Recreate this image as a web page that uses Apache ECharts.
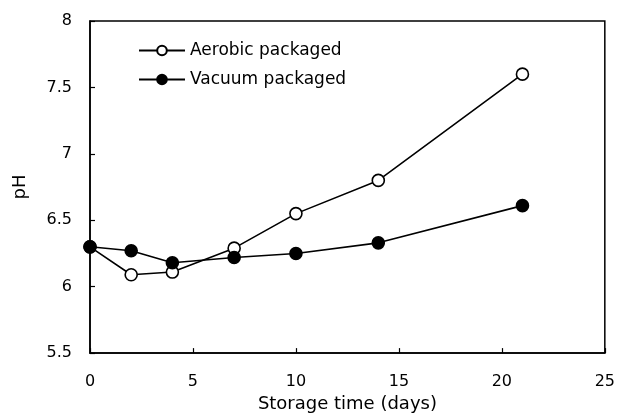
<!DOCTYPE html>
<html>
<head>
<meta charset="utf-8">
<script src="https://cdn.jsdelivr.net/npm/echarts@6/dist/echarts.min.js"></script>
<style>
html,body{margin:0;padding:0;background:#fff;}
#chart{width:618px;height:418px;}
</style>
</head>
<body>
<div id="chart"></div>
<script>
const days = [0, 2, 4, 7, 10, 14, 21];
const aerobic = [6.30, 6.09, 6.11, 6.29, 6.55, 6.80, 7.60];
const vacuum = [6.30, 6.27, 6.18, 6.22, 6.25, 6.33, 6.61];
const seriesNames = ['Aerobic packaged', 'Vacuum packaged'];
const xTitle = 'Storage time (days)';
const yTitle = 'pH';

const font = 'DejaVu Sans';
const pair = (ys) => days.map((d, i) => [d, ys[i]]);

const chart = echarts.init(document.getElementById('chart'), null, {renderer: 'canvas'});
chart.setOption({
  animation: false,
  backgroundColor: '#fff',
  grid: {left: 90, right: 12, top: 21, bottom: 64, show: true, borderColor: '#000', borderWidth: 1.5, backgroundColor: 'transparent'},
  legend: {
    orient: 'vertical', left: 133, top: 37, itemWidth: 46, itemHeight: 12, itemGap: 12,
    textStyle: {fontFamily: font, fontSize: 17, color: '#000'},
    data: seriesNames
  },
  xAxis: {
    type: 'value', min: 0, max: 25, interval: 5,
    name: xTitle, nameLocation: 'middle', nameGap: 40,
    nameTextStyle: {fontFamily: font, fontSize: 18, color: '#000'},
    axisLine: {show: true, lineStyle: {color: '#000', width: 1.5}},
    axisTick: {show: true, inside: true, length: 5, lineStyle: {color: '#000', width: 1.2}},
    axisLabel: {fontFamily: font, fontSize: 16, color: '#000', margin: 21},
    splitLine: {show: false}
  },
  yAxis: {
    type: 'value', min: 5.5, max: 8, interval: 0.5,
    name: yTitle, nameLocation: 'middle', nameGap: 61, nameRotate: 90,
    nameTextStyle: {fontFamily: font, fontSize: 18, color: '#000'},
    axisLine: {show: true, lineStyle: {color: '#000', width: 1.5}},
    axisTick: {show: true, inside: true, length: 5, lineStyle: {color: '#000', width: 1.2}},
    axisLabel: {fontFamily: font, fontSize: 16, color: '#000', margin: 18},
    splitLine: {show: false}
  },
  series: [
    {
      name: seriesNames[0], type: 'line', data: pair(aerobic),
      symbol: 'circle', symbolSize: 12,
      lineStyle: {color: '#000', width: 1.6},
      itemStyle: {color: '#fff', borderColor: '#000', borderWidth: 1.6}
    },
    {
      name: seriesNames[1], type: 'line', data: pair(vacuum),
      symbol: 'circle', symbolSize: 12,
      lineStyle: {color: '#000', width: 1.6},
      itemStyle: {color: '#000', borderColor: '#000', borderWidth: 1.6}
    }
  ]
});
</script>
</body>
</html>
